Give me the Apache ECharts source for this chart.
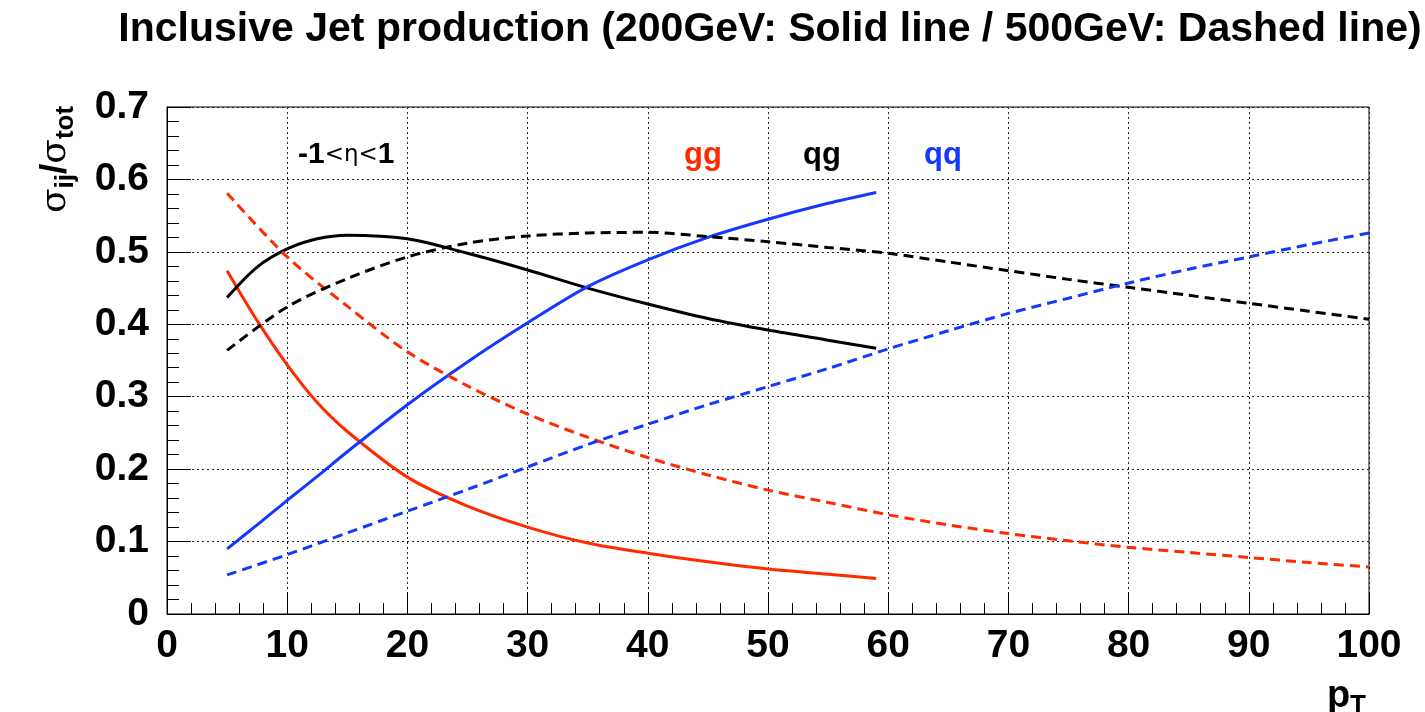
<!DOCTYPE html>
<html>
<head>
<meta charset="utf-8">
<title>Inclusive Jet production</title>
<script src="https://cdn.jsdelivr.net/npm/echarts@6/dist/echarts.min.js"></script>
<style>
  html, body { margin: 0; padding: 0; background: #fff; }
  #chart { width: 1425px; height: 712px; }
</style>
</head>
<body>
<div id="chart"></div>
<script>
// pT points of the 200 GeV curves (solid) and 500 GeV curves (dashed)
const ptSolid = [5, 7.5, 10, 12.5, 15, 20, 25, 30, 35, 40, 45, 50, 55, 59];
const ptDashed = [5, 10, 15, 20, 25, 30, 35, 40, 45, 50, 55, 60, 65, 70, 75, 80, 85, 90, 95, 100];

// subprocess fractions sigma_ij / sigma_tot, 200 GeV
const gg200 = [0.474, 0.405, 0.344, 0.292, 0.252, 0.189, 0.149, 0.120, 0.098, 0.084, 0.072, 0.062, 0.055, 0.049];
const qg200 = [0.437, 0.479, 0.504, 0.518, 0.523, 0.518, 0.498, 0.475, 0.450, 0.428, 0.408, 0.392, 0.378, 0.367];
const qq200 = [0.090, 0.123, 0.157, 0.190, 0.224, 0.289, 0.348, 0.402, 0.452, 0.489, 0.520, 0.545, 0.567, 0.582];

// subprocess fractions, 500 GeV
const gg500 = [0.581, 0.493, 0.425, 0.362, 0.315, 0.276, 0.244, 0.216, 0.192, 0.171, 0.154, 0.137, 0.123, 0.111, 0.101, 0.092, 0.085, 0.078, 0.071, 0.065];
const qg500 = [0.364, 0.424, 0.463, 0.493, 0.512, 0.522, 0.526, 0.527, 0.521, 0.514, 0.506, 0.498, 0.486, 0.474, 0.462, 0.451, 0.440, 0.429, 0.418, 0.407];
const qq500 = [0.054, 0.082, 0.112, 0.142, 0.172, 0.203, 0.234, 0.262, 0.289, 0.314, 0.339, 0.366, 0.391, 0.415, 0.436, 0.457, 0.476, 0.493, 0.510, 0.526];

const RED = '#ff2a00';
const BLACK = '#000000';
const BLUE = '#1438ff';
const FONT = '"Liberation Sans", Arial, Helvetica, sans-serif';

const pairs = (xs, ys) => xs.map((x, i) => [x, ys[i]]);

function curve(name, xs, ys, color, dashed) {
  return {
    name: name,
    type: 'line',
    data: pairs(xs, ys),
    smooth: 0.3,
    showSymbol: false,
    silent: true,
    lineStyle: { color: color, width: 3, type: dashed ? [10, 6] : 'solid' },
    z: 3
  };
}

const gridDots = { show: true, lineStyle: { color: '#222', width: 1, type: [2, 3] } };

const chart = echarts.init(document.getElementById('chart'), null, { renderer: 'canvas' });

chart.setOption({
  backgroundColor: '#fff',
  animation: false,
  title: {
    text: 'Inclusive Jet production (200GeV: Solid line / 500GeV: Dashed line)',
    left: 765,
    textAlign: 'center',
    top: 4,
    textStyle: { fontFamily: FONT, fontWeight: 'bold', fontSize: 41, color: '#000' }
  },
  grid: {
    left: 167, right: 56, top: 107, bottom: 98,
    show: true, borderColor: '#000', borderWidth: 1, backgroundColor: 'transparent'
  },
  xAxis: {
    type: 'value',
    min: 0, max: 100, interval: 10,
    axisLine: { show: true, onZero: false, lineStyle: { color: '#000', width: 1 } },
    axisTick: { show: true, inside: true, length: 22, lineStyle: { color: '#000', width: 1 } },
    minorTick: { show: true, splitNumber: 5, length: 11, lineStyle: { color: '#000', width: 1 } },
    splitLine: gridDots,
    axisLabel: {
      fontFamily: FONT, fontWeight: 'bold', fontSize: 39, color: '#000', margin: 13,
      showMinLabel: true, showMaxLabel: true
    }
  },
  yAxis: {
    type: 'value',
    min: 0, max: 0.7, interval: 0.1,
    axisLine: { show: true, onZero: false, lineStyle: { color: '#000', width: 1 } },
    axisTick: { show: true, inside: true, length: 24, lineStyle: { color: '#000', width: 1 } },
    minorTick: { show: true, splitNumber: 5, length: 12, lineStyle: { color: '#000', width: 1 } },
    splitLine: gridDots,
    axisLabel: {
      fontFamily: FONT, fontWeight: 'bold', fontSize: 39, color: '#000', margin: 18,
      formatter: v => (v === 0 ? '0' : v.toFixed(1))
    }
  },
  series: [
    curve('gg 200GeV', ptSolid, gg200, RED, false),
    curve('qg 200GeV', ptSolid, qg200, BLACK, false),
    curve('qq 200GeV', ptSolid, qq200, BLUE, false),
    curve('gg 500GeV', ptDashed, gg500, RED, true),
    curve('qg 500GeV', ptDashed, qg500, BLACK, true),
    curve('qq 500GeV', ptDashed, qq500, BLUE, true)
  ],
  graphic: [
    {
      // y-axis title: sigma_ij / sigma_tot, reading bottom to top
      type: 'text',
      x: 56, y: 213,
      rotation: Math.PI / 2,
      style: {
        text: '{s|σ}{sub|ij}{sl|/}{s|σ}{sub|tot}',
        textAlign: 'left',
        textVerticalAlign: 'middle',
        fill: '#000',
        rich: {
          s: { fontFamily: '"DejaVu Serif", serif', fontSize: 36, fontWeight: 'normal', fill: '#000' },
          sl: { fontFamily: FONT, fontSize: 37, fontWeight: 'bold', fill: '#000' },
          sub: { fontFamily: FONT, fontSize: 26, fontWeight: 'bold', fill: '#000', padding: [20, 0, 0, 0] }
        }
      }
    },
    {
      // x-axis title: p_T
      type: 'text',
      x: 1366, y: 697,
      style: {
        text: '{p|p}{sub|T}',
        textAlign: 'right',
        textVerticalAlign: 'middle',
        rich: {
          p: { fontFamily: FONT, fontSize: 38, fontWeight: 'bold', fill: '#000' },
          sub: { fontFamily: FONT, fontSize: 26, fontWeight: 'bold', fill: '#000', padding: [18, 0, 0, 0] }
        }
      }
    },
    {
      type: 'text',
      x: 298, y: 155,
      style: {
        text: '{b|-1}{n|<η<}{b|1}',
        textAlign: 'left',
        textVerticalAlign: 'middle',
        rich: {
          b: { fontFamily: FONT, fontSize: 30, fontWeight: 'bold', fill: '#000' },
          n: { fontFamily: '"DejaVu Sans", sans-serif', fontSize: 23, fontWeight: 'normal', fill: '#000' }
        }
      }
    },
    {
      type: 'text', x: 703, y: 155,
      style: { text: 'gg', textAlign: 'center', textVerticalAlign: 'middle',
        font: 'bold 31px ' + FONT, fill: RED }
    },
    {
      type: 'text', x: 822, y: 155,
      style: { text: 'qg', textAlign: 'center', textVerticalAlign: 'middle',
        font: 'bold 31px ' + FONT, fill: BLACK }
    },
    {
      type: 'text', x: 943, y: 155,
      style: { text: 'qq', textAlign: 'center', textVerticalAlign: 'middle',
        font: 'bold 31px ' + FONT, fill: BLUE }
    }
  ]
});
</script>
</body>
</html>
